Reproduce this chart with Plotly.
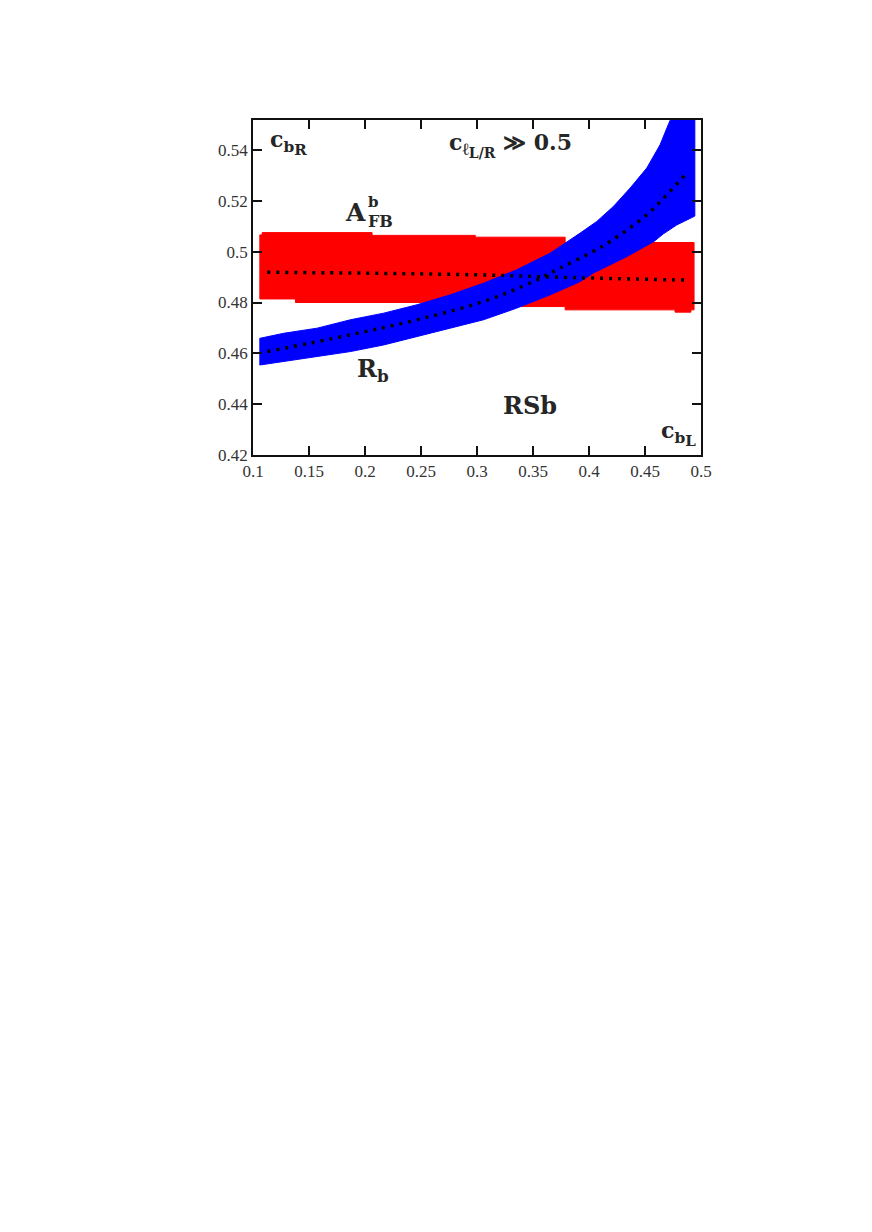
"""
RSb fit: A_FB^b and R_b bands in the (c_bL, c_bR) plane.
"""
import plotly.graph_objects as go

# ── data ───────────────────────────────────────────────────────────────────
# A_FB^b band (red), stepped edges
afb_upper_x = [0.1061, 0.1082, 0.1082, 0.2063, 0.2063, 0.2985, 0.2985, 0.3787, 0.3787, 0.4938]
afb_upper_y = [0.5066, 0.5066, 0.5075, 0.5075, 0.5064, 0.5064, 0.5057, 0.5057, 0.5036, 0.5036]
afb_lower_x = [0.1061, 0.1379, 0.1379, 0.3356, 0.3356, 0.3787, 0.3787, 0.4768, 0.4768, 0.4910, 0.4910, 0.4938]
afb_lower_y = [0.4814, 0.4814, 0.4800, 0.4800, 0.4784, 0.4784, 0.4771, 0.4771, 0.4762, 0.4762, 0.4771, 0.4771]
afb_center_x = [0.1127, 0.2078, 0.2969, 0.3861, 0.4857]
afb_center_y = [0.4919, 0.4915, 0.4909, 0.4898, 0.4888]

# R_b band (blue)
rb_upper_x = [0.1061, 0.1275, 0.1573, 0.1870, 0.2167, 0.2464, 0.2761, 0.3058, 0.3356,
              0.3653, 0.3921, 0.4070, 0.4218, 0.4367, 0.4516, 0.4634, 0.4708, 0.4738, 0.4945]
rb_upper_y = [0.4659, 0.4679, 0.4699, 0.4732, 0.4758, 0.4791, 0.4830, 0.4876, 0.4929,
              0.4994, 0.5073, 0.5119, 0.5178, 0.5250, 0.5329, 0.5420, 0.5500, 0.5530, 0.5600]
rb_lower_x = [0.1061, 0.1275, 0.1573, 0.1870, 0.2167, 0.2464, 0.2761, 0.3058, 0.3356,
              0.3653, 0.3920, 0.4040, 0.4340, 0.4580, 0.4664, 0.4783, 0.4945]
rb_lower_y = [0.4554, 0.4567, 0.4587, 0.4607, 0.4633, 0.4666, 0.4699, 0.4732, 0.4778,
              0.4830, 0.4882, 0.4916, 0.4981, 0.5040, 0.5070, 0.5105, 0.5140]
rb_center_x = [0.1127, 0.1870, 0.2464, 0.3058, 0.3500, 0.3740, 0.4040, 0.4189, 0.4516, 0.4680, 0.4873]
rb_center_y = [0.4607, 0.4673, 0.4732, 0.4804, 0.4882, 0.4935, 0.5002, 0.5040, 0.5145, 0.5217, 0.5309]

x_ticks = [0.1, 0.15, 0.2, 0.25, 0.3, 0.35, 0.4, 0.45, 0.5]
y_ticks = [0.42, 0.44, 0.46, 0.48, 0.5, 0.52, 0.54]

RED = "#FF0000"
BLUE = "#0000FF"
TXT = "#262626"
SERIF = "'Liberation Serif', 'DejaVu Serif', serif"
BOLD_SERIF = "'DejaVu Serif', 'Liberation Serif', serif"


def band(xu, yu, xl, yl, color):
    # closed polygon: upper edge left→right, lower edge right→left
    xs = list(xu) + list(reversed(xl)) + [xu[0]]
    ys = list(yu) + list(reversed(yl)) + [yu[0]]
    return go.Scatter(x=xs, y=ys, mode="lines", fill="toself", fillcolor=color,
                      line=dict(color=color, width=1), hoverinfo="skip")


def dotted(x, y):
    return go.Scatter(x=x, y=y, mode="lines", line=dict(color="black", width=3.5, dash="3px,6px"),
                      line_shape="spline", hoverinfo="skip")


def sz(t, s):
    return f"<span style='font-size:{s}px'>{t}</span>"


fig = go.Figure()
fig.add_trace(band(afb_upper_x, afb_upper_y, afb_lower_x, afb_lower_y, RED))
fig.add_trace(band(rb_upper_x, rb_upper_y, rb_lower_x, rb_lower_y, BLUE))
fig.add_trace(dotted(afb_center_x, afb_center_y))
fig.add_trace(dotted(rb_center_x, rb_center_y))

labels = [
    (0.1317, 0.5428, "c<sub>b<sub>" + sz("R", 15) + "</sub></sub>", 22),
    (0.3297, 0.5420, "c<sub>" + sz("ℓ", 17) + "<sub>" + sz("L/R", 14) + "</sub></sub> ≫ 0.5", 22),
    (0.2075, 0.4535, "R<sub>b</sub>", 24),
    (0.3475, 0.4393, "RSb", 24),
    (0.4795, 0.4283, "c<sub>b<sub>" + sz("L", 15) + "</sub></sub>", 22),
]
for x, y, t, s in labels:
    fig.add_annotation(x=x, y=y, text="<b>" + t + "</b>", showarrow=False,
                       xanchor="center", yanchor="middle",
                       font=dict(family=BOLD_SERIF, size=s, color=TXT))

# A_FB^b with stacked super/subscript
fig.add_annotation(x=0.1915, y=0.5155, text="<b>A</b>", showarrow=False,
                   font=dict(family=BOLD_SERIF, size=25, color=TXT))
fig.add_annotation(x=0.2005, y=0.5196, text="<b>b</b>", showarrow=False, xanchor="left",
                   font=dict(family=BOLD_SERIF, size=15, color=TXT))
fig.add_annotation(x=0.2005, y=0.5120, text="<b>FB</b>", showarrow=False, xanchor="left",
                   font=dict(family=BOLD_SERIF, size=16, color=TXT))

axis_common = dict(showline=True, linecolor="#111", linewidth=1.5, mirror="ticks",
                   ticks="inside", ticklen=9, tickwidth=1.5, tickcolor="#111",
                   showgrid=False, zeroline=False,
                   tickfont=dict(family=SERIF, size=17, color="#333"))

fig.update_xaxes(range=[0.1, 0.5], tickvals=x_ticks, ticktext=[f"{v:g}" for v in x_ticks],
                 **axis_common)
fig.update_yaxes(range=[0.42, 0.5518], tickvals=y_ticks, ticktext=[f"{v:g}" for v in y_ticks],
                 **axis_common)

fig.update_layout(
    width=872, height=1232,
    margin=dict(l=245, r=179, t=112, b=785),
    plot_bgcolor="white", paper_bgcolor="white",
    showlegend=False,
)

fig.write_html("out.html")
